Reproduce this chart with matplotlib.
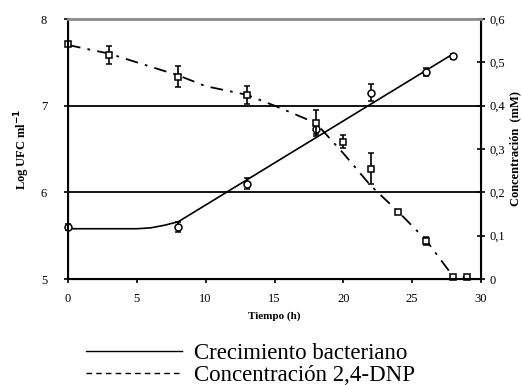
import matplotlib.pyplot as plt
from matplotlib.lines import Line2D

plt.rcParams['font.family'] = ['Liberation Serif', 'DejaVu Serif']

# crecimiento bacteriano (log UFC/ml)
t_ufc = [0, 8, 13, 18, 22, 26, 28]
ufc = [5.60, 5.60, 6.10, 6.73, 7.15, 7.39, 7.57]
ufc_err = [0.04, 0.06, 0.06, 0.06, 0.10, 0.05, 0.03]

# curva ajustada del crecimiento
t_fit = [0, 5, 6, 7, 8, 28]
ufc_fit = [5.58, 5.58, 5.59, 5.62, 5.66, 7.60]

# concentracion 2,4-DNP (mM)
t_dnp = [0, 3, 8, 13, 18, 20, 22, 24, 26, 28, 29]
dnp = [0.542, 0.517, 0.467, 0.425, 0.361, 0.317, 0.255, 0.154, 0.088, 0.005, 0.005]
dnp_err = [0.005, 0.02, 0.025, 0.02, 0.03, 0.015, 0.035, 0.005, 0.01, 0.0, 0.0]

# curva de la concentracion
t_dfit = [0, 3, 5, 8, 10, 13, 15, 18, 20, 22, 24, 26, 28, 29]
dnp_fit = [0.54, 0.52, 0.50, 0.47, 0.445, 0.425, 0.40, 0.36, 0.29, 0.215, 0.155, 0.09, 0.005, 0.005]

fig = plt.figure(figsize=(5.22, 3.85), dpi=100)
ax = fig.add_axes([68/522, 1-279/385, 413/522, 260/385])
ax2 = ax.twinx()

ax.set_xlim(0, 30)
ax.set_ylim(5, 8)
ax2.set_ylim(0, 0.6)

for yy in [6, 7]:
    ax.axhline(yy, color='black', lw=1.3, zorder=1)

ax.plot(t_fit, ufc_fit, color='black', lw=1.2, zorder=2)
ax.errorbar(t_ufc, ufc, yerr=ufc_err, fmt='o', mfc='white', mec='black', ms=5,
            mew=1.1, ecolor='black', elinewidth=1.2, capsize=2.5, capthick=1.2,
            zorder=3, clip_on=False)

ax2.plot(t_dfit, dnp_fit, color='black', lw=1.3, dashes=(7, 4, 1.5, 4))
ax2.errorbar(t_dnp, dnp, yerr=dnp_err, fmt='s', mfc='white', mec='black', ms=5,
             mew=1.1, ecolor='black', elinewidth=1.2, capsize=2.5, capthick=1.2,
             clip_on=False)

for s in ['left', 'bottom', 'right']:
    ax2.spines[s].set_linewidth(1.5)
ax2.spines['top'].set_color('#8c8c8c')
ax2.spines['top'].set_linewidth(2)
ax.spines['top'].set_visible(False)

ax.set_xticks([0, 5, 10, 15, 20, 25, 30])
ax.set_yticks([5, 6, 7, 8])
ax2.set_yticks([0, 0.1, 0.2, 0.3, 0.4, 0.5, 0.6])
ax2.set_yticklabels(['0', '0,1', '0,2', '0,3', '0,4', '0,5', '0,6'])
ax.tick_params(axis='both', direction='out', length=3, width=1.2, labelsize=9, pad=12)
ax.tick_params(axis='x', pad=7)
ax2.tick_params(axis='y', direction='inout', length=6, width=1.2, labelsize=9, pad=3)

ax.set_xlabel('Tiempo (h)', fontsize=8, fontweight='bold', labelpad=5)
ax.set_ylabel('Log UFC ml$^{\\mathbf{-1}}$', fontsize=9, fontweight='bold', labelpad=6)
ax2.set_ylabel('Concentración  (mM)', fontsize=9, fontweight='bold', labelpad=3)

handles = [Line2D([], [], color='black', lw=1),
           Line2D([], [], color='black', lw=1, dashes=(4, 3))]
fig.legend(handles, ['Crecimiento bacteriano', 'Concentración 2,4-DNP'],
           loc='upper left', bbox_to_anchor=(86/522, 1-343/385), frameon=False,
           fontsize=16.5, handlelength=4.2, handletextpad=0.5, labelspacing=0.05,
           borderpad=0, borderaxespad=0)

fig.savefig('out.png', dpi=100)
